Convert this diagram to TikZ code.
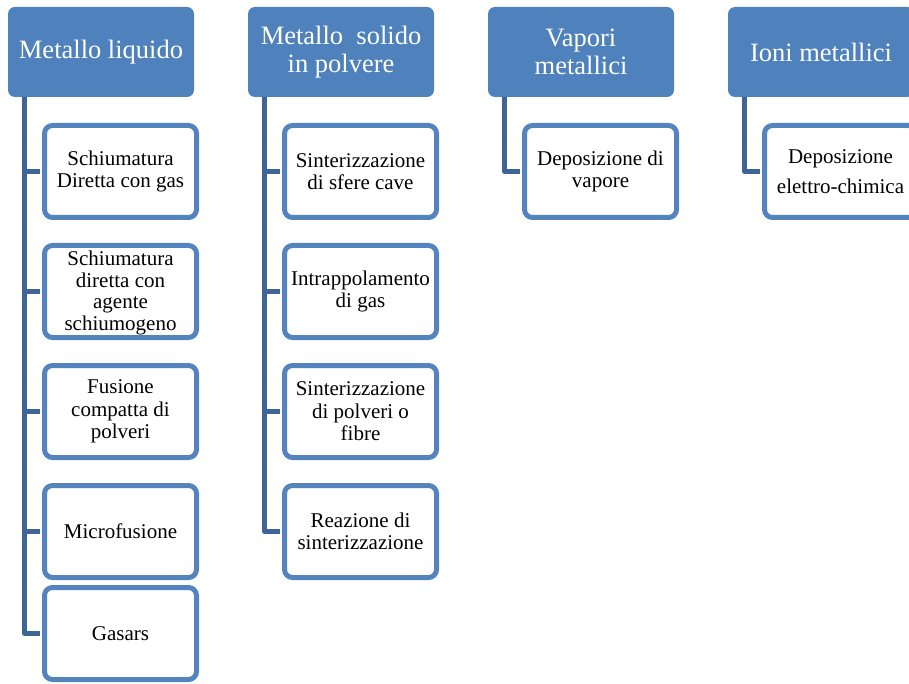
\documentclass[tikz,border=0pt]{standalone}
\usepackage{fontspec}
\setmainfont{Liberation Serif}
\usetikzlibrary{positioning}
\definecolor{hdrblue}{HTML}{4F81BD}
\definecolor{boxblue}{HTML}{5384BE}
\definecolor{linkblue}{HTML}{3F6597}
\tikzset{
  header/.style={rectangle, rounded corners=7pt, fill=hdrblue, text=white,
    minimum width=186pt, minimum height=90pt, align=center, inner sep=2pt,
    font=\fontsize{26.5}{28}\selectfont},
  leaf/.style={rectangle, rounded corners=8pt, draw=boxblue, line width=5pt,
    fill=white, minimum width=152pt, minimum height=92pt, align=center,
    inner sep=0pt, font=\fontsize{21}{22.5}\selectfont},
  link/.style={draw=linkblue, line width=5pt, line join=round, shorten >=2.5pt}
}

\begin{document}
\begin{tikzpicture}[x=1pt, y=-1pt]
  \useasboundingbox (0,0) rectangle (909,684);
  \clip (0,0) rectangle (909,684);

  % categorie
  \node[header] (liq) at (101,52) {Metallo liquido};
  \node[header] (sol) at (341,52) {Metallo\ \ solido\\in polvere};
  \node[header] (vap) at (581,52) {Vapori\\metallici};
  \node[header] (ion) at (821,52) {Ioni metallici};

  % metallo liquido
  \node[leaf] (liq1) at (120.5,171.5) {Schiumatura\\Diretta con gas};
  \node[leaf, font=\fontsize{21}{21.8}\selectfont, text height=83pt] (liq2) at (120.5,291.5)
    {Schiumatura\\diretta con\\agente\\schiumogeno};
  \node[leaf] (liq3) at (120.5,411.5) {Fusione\\compatta di\\polveri};
  \node[leaf] (liq4) at (120.5,531.5) {Microfusione};
  \node[leaf] (liq5) at (120.5,633.5) {Gasars};

  % metallo solido
  \node[leaf] (sol1) at (360.5,171.5) {Sinterizzazione\\di sfere cave};
  \node[leaf] (sol2) at (360.5,291.5) {Intrappolamento\\di gas};
  \node[leaf] (sol3) at (360.5,411.5) {Sinterizzazione\\di polveri o\\fibre};
  \node[leaf] (sol4) at (360.5,531.5) {Reazione di\\sinterizzazione};

  % vapori e ioni
  \node[leaf] (vap1) at (600.5,171.5) {Deposizione di\\vapore};
  \node[leaf, font=\fontsize{21}{30}\selectfont] (ion1) at (840.5,171.5)
    {Deposizione\\elettro-chimica};

  % collegamenti
  \foreach \c/\l in {liq/liq1, liq/liq2, liq/liq3, liq/liq4, liq/liq5,
                     sol/sol1, sol/sol2, sol/sol3, sol/sol4,
                     vap/vap1, ion/ion1}
    \draw[link] ([xshift=17pt]\c.south west) |- (\l.west);
\end{tikzpicture}
\end{document}
